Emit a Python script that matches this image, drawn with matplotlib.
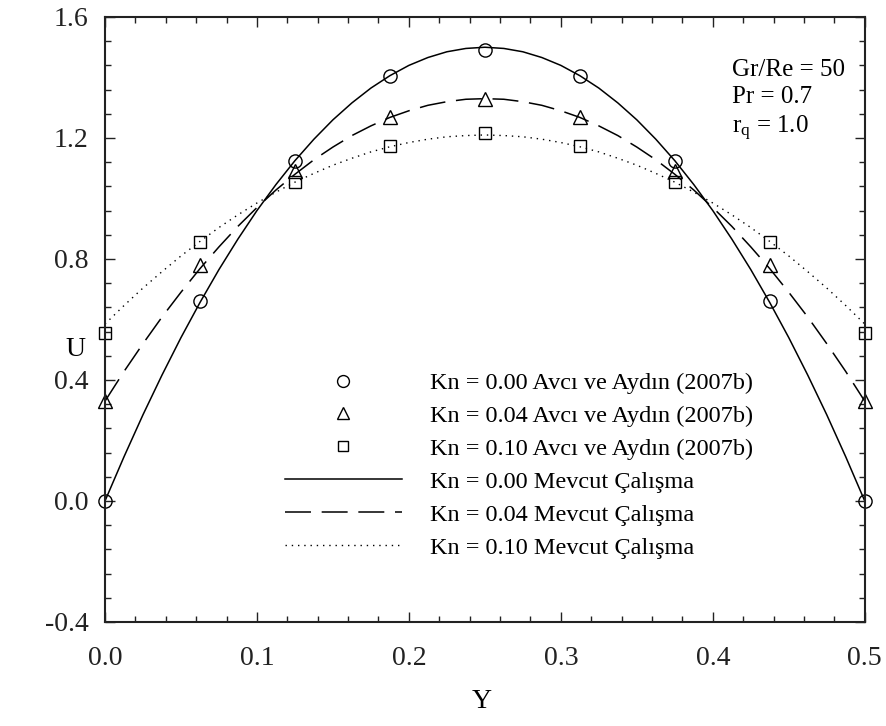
import matplotlib
matplotlib.use("Agg")
import matplotlib.pyplot as plt
from matplotlib.ticker import MultipleLocator

plt.rcParams['font.family'] = ['Liberation Serif', 'DejaVu Serif']
plt.rcParams['mathtext.fontset'] = 'stix'

# Reference data (markers)
y_pts = [0.0, 0.0625, 0.125, 0.1875, 0.25, 0.3125, 0.375, 0.4375, 0.5]
u_kn000_ref = [0.0, 0.66, 1.125, 1.405, 1.492, 1.405, 1.125, 0.66, 0.0]
u_kn004_ref = [0.33, 0.78, 1.09, 1.27, 1.33, 1.27, 1.09, 0.78, 0.33]
u_kn010_ref = [0.555, 0.855, 1.055, 1.175, 1.215, 1.175, 1.055, 0.855, 0.555]

# Present study curves
y_line = [0.0, 0.0125, 0.025, 0.0375, 0.05, 0.0625, 0.075, 0.0875, 0.1, 0.1125,
          0.125, 0.1375, 0.15, 0.1625, 0.175, 0.1875, 0.2, 0.2125, 0.225, 0.2375,
          0.25, 0.2625, 0.275, 0.2875, 0.3, 0.3125, 0.325, 0.3375, 0.35, 0.3625,
          0.375, 0.3875, 0.4, 0.4125, 0.425, 0.4375, 0.45, 0.4625, 0.475, 0.4875, 0.5]
u_kn000 = [0.0, 0.146, 0.285, 0.416, 0.54, 0.656, 0.765, 0.866, 0.96, 1.046,
           1.125, 1.196, 1.26, 1.316, 1.365, 1.406, 1.44, 1.466, 1.485, 1.496,
           1.5, 1.496, 1.485, 1.466, 1.44, 1.406, 1.365, 1.316, 1.26, 1.196,
           1.125, 1.046, 0.96, 0.866, 0.765, 0.656, 0.54, 0.416, 0.285, 0.146, 0.0]
u_kn004 = [0.33, 0.428, 0.52, 0.608, 0.69, 0.768, 0.84, 0.908, 0.97, 1.028,
           1.08, 1.128, 1.17, 1.208, 1.24, 1.268, 1.29, 1.308, 1.32, 1.328,
           1.33, 1.328, 1.32, 1.308, 1.29, 1.268, 1.24, 1.208, 1.17, 1.128,
           1.08, 1.028, 0.97, 0.908, 0.84, 0.768, 0.69, 0.608, 0.52, 0.428, 0.33]
u_kn010 = [0.585, 0.646, 0.704, 0.758, 0.81, 0.858, 0.904, 0.946, 0.985, 1.021,
           1.054, 1.083, 1.11, 1.133, 1.154, 1.171, 1.185, 1.196, 1.204, 1.208,
           1.21, 1.208, 1.204, 1.196, 1.185, 1.171, 1.154, 1.133, 1.11, 1.083,
           1.054, 1.021, 0.985, 0.946, 0.904, 0.858, 0.81, 0.758, 0.704, 0.646, 0.585]

labels = ["Kn = 0.00 Avcı ve Aydın (2007b)",
          "Kn = 0.04 Avcı ve Aydın (2007b)",
          "Kn = 0.10 Avcı ve Aydın (2007b)",
          "Kn = 0.00 Mevcut Çalışma",
          "Kn = 0.04 Mevcut Çalışma",
          "Kn = 0.10 Mevcut Çalışma"]

fig = plt.figure(figsize=(8.86, 7.26), dpi=100)
ax = fig.add_axes([0.1185, 0.1433, 0.8575, 0.8333])

l0, = ax.plot(y_line, u_kn000, color='black', lw=1.1, ls='-')
l1, = ax.plot(y_line, u_kn004, color='black', lw=1.1, ls=(0, (17, 7)))
l2, = ax.plot(y_line, u_kn010, color='black', lw=1.0, ls=(0, (1, 3.5)))

m0, = ax.plot(y_pts, u_kn000_ref, ls='none', marker='o', ms=9.5, mfc='none', mec='black', mew=1.0, clip_on=False)
m1, = ax.plot(y_pts, u_kn004_ref, ls='none', marker='^', ms=9.5, mfc='none', mec='black', mew=1.0, clip_on=False)
m2, = ax.plot(y_pts, u_kn010_ref, ls='none', marker='s', ms=8.5, mfc='none', mec='black', mew=1.0, clip_on=False)

ax.set_xlim(0, 0.5)
ax.set_ylim(-0.4, 1.6)
ax.xaxis.set_minor_locator(MultipleLocator(0.02))
ax.yaxis.set_minor_locator(MultipleLocator(0.08))
ax.set_xticks([0.0, 0.1, 0.2, 0.3, 0.4, 0.5])
ax.set_xticklabels(['0.0', '0.1', '0.2', '0.3', '0.4', '0.5'])
ax.set_yticks([-0.4, 0.0, 0.4, 0.8, 1.2, 1.6])
ax.set_yticklabels(['-0.4', '0.0', '0.4', '0.8', '1.2', '1.6'])
ax.tick_params(which='both', direction='in', top=True, right=True, width=1.0, colors='#222222')
ax.tick_params(which='major', length=7, labelsize=20)
ax.tick_params(axis='x', which='major', pad=17)
ax.tick_params(axis='y', which='major', pad=12)
ax.tick_params(which='minor', length=4)
for s in ax.spines.values():
    s.set_linewidth(1.5)
    s.set_color('#222222')

fig.text(75/886, 1 - 350/726, 'U', fontsize=20, ha='center', va='center')
fig.text(482/886, 1 - 701/726, 'Y', fontsize=20, ha='center', va='center')

ax.text((732 - 105) / 760, 1 - (59 - 17) / 605, 'Gr/Re = 50\nPr = 0.7\n$\\mathregular{r_q}$ = 1.0', transform=ax.transAxes,
        fontsize=18, ha='left', va='top', linespacing=1.3)

leg = fig.legend([m0, m1, m2, l0, l1, l2], labels, loc='upper left',
                 bbox_to_anchor=(285/886, 1 - 372/726), bbox_transform=fig.transFigure,
                 frameon=False, fontsize=17.5, handlelength=4.8, handletextpad=1.15,
                 labelspacing=0.45, borderpad=0, borderaxespad=0, markerscale=0.9)

fig.savefig('out.png', dpi=100)
